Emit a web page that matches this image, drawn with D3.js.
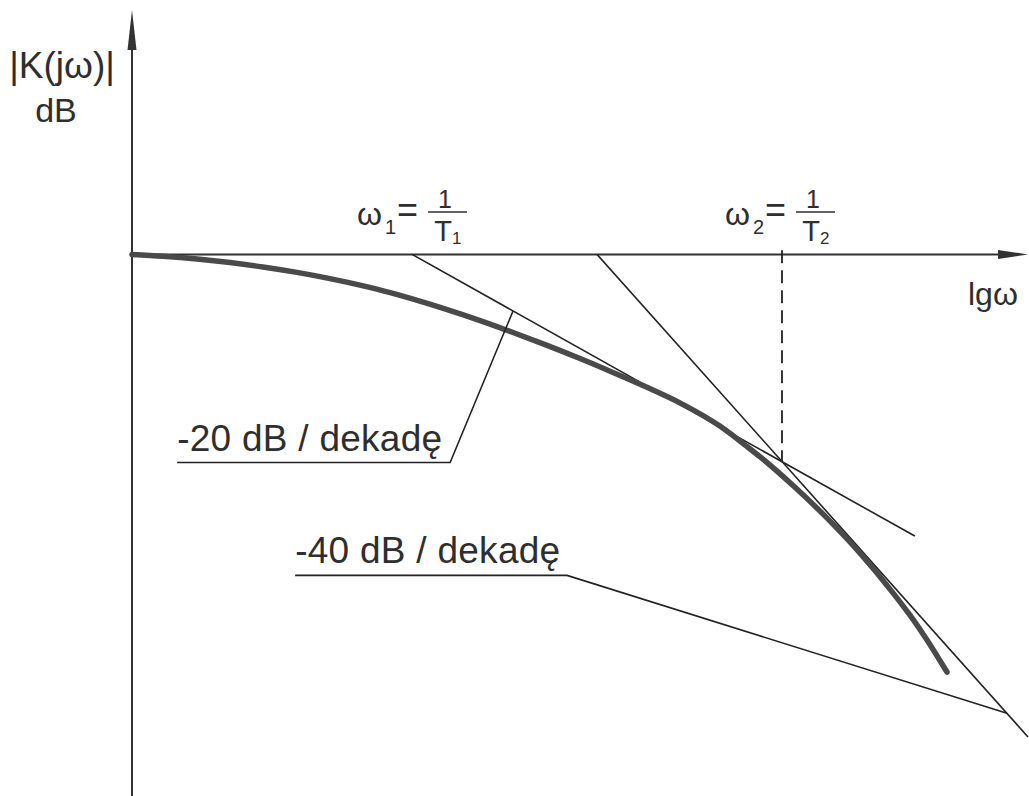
<!DOCTYPE html>
<html>
<head>
<meta charset="utf-8">
<script src="https://cdn.jsdelivr.net/npm/d3@7"></script>
<style>
  html, body { margin: 0; padding: 0; background: #fff; }
  svg { display: block; }
  text { font-family: "Liberation Sans", Arial, Helvetica, sans-serif; fill: #2e2e2e; }
</style>
</head>
<body>
<svg id="chart" width="1029" height="796"></svg>
<script>
// Bode magnitude plot of a two-pole system: real curve and its asymptotes.
// Horizontal unit: decades of lg(ω), with ω1 = 1/T1 at 0 and ω2 = 1/T2 at 1.
// Vertical unit: dB.

// Real magnitude curve (lg ω, dB)
const curveLg = [-0.757, -0.673, -0.581, -0.492, -0.403, -0.311, -0.222, -0.132, -0.059,
                 0.003, 0.095, 0.184, 0.273, 0.365, 0.454, 0.543, 0.635, 0.724, 0.832,
                 0.905, 0.941, 1.030, 1.122, 1.211, 1.300, 1.346, 1.392, 1.446];
const curveDb = [0, -0.18, -0.45, -0.79, -1.21, -1.74, -2.34, -3.04, -3.69,
                 -4.32, -5.33, -6.39, -7.54, -8.79, -10.06, -11.40, -12.84, -14.34, -16.58,
                 -18.54, -19.55, -22.32, -25.47, -28.85, -32.68, -34.84, -37.23, -40.33];

// -20 dB/decade asymptote starting at ω1
const slope20Lg = [0, 1.359];
const slope20Db = [0, -27.2];

// -40 dB/decade asymptote, crossing the first one at ω2
const slope40Lg = [0.5, 1.665];
const slope40Db = [0, -46.6];

// Corner frequency ω2 marker (dashed)
const cornerLg = [1, 1];
const cornerDb = [0.4, -20];

// Label leaders: underline then a stroke to the asymptote
const leader20Lg = [-0.635, 0.103, 0.273];
const leader20Db = [-20.1, -20.1, -5.46];
const leader40Lg = [-0.316, 0.419, 1.608];
const leader40Db = [-31.0, -31.0, -44.3];

// Axis extents
const lgDomain = [-0.757, 1.665];
const dbDomain = [23.6, -52.3];

const svg = d3.select("#chart");
const x = d3.scaleLinear().domain(lgDomain).range([132, 1028]);
const y = d3.scaleLinear().domain(dbDomain).range([10, 796]);

const zip = (a, b) => a.map((v, i) => [v, b[i]]);
const line = d3.line().x(d => x(d[0])).y(d => y(d[1]));
const smooth = d3.line().x(d => x(d[0])).y(d => y(d[1])).curve(d3.curveMonotoneX);

// Axes
const x0 = x(lgDomain[0]), y0 = y(0);
svg.append("line").attr("x1", x0).attr("x2", x0).attr("y1", 796).attr("y2", 40)
  .attr("stroke", "#333").attr("stroke-width", 2);
svg.append("path")
  .attr("d", `M${x0},${y(dbDomain[0])} L${x0 - 4.5},${y(dbDomain[0]) + 40} L${x0 + 4.5},${y(dbDomain[0]) + 40} Z`)
  .attr("fill", "#333");
svg.append("line").attr("x1", x0).attr("x2", 1000).attr("y1", y0).attr("y2", y0)
  .attr("stroke", "#333").attr("stroke-width", 2);
svg.append("path")
  .attr("d", `M${x(lgDomain[1])},${y0} L${x(lgDomain[1]) - 30},${y0 - 4.5} L${x(lgDomain[1]) - 30},${y0 + 4.5} Z`)
  .attr("fill", "#333");

// Asymptotes
[[slope20Lg, slope20Db], [slope40Lg, slope40Db]].forEach(([a, b]) => {
  svg.append("path").datum(zip(a, b)).attr("d", line)
    .attr("fill", "none").attr("stroke", "#222").attr("stroke-width", 1.6);
});

// Dashed marker at ω2
svg.append("path").datum(zip(cornerLg, cornerDb)).attr("d", line)
  .attr("fill", "none").attr("stroke", "#222").attr("stroke-width", 1.8)
  .attr("stroke-dasharray", "13,7");

// Real curve
svg.append("path").datum(zip(curveLg, curveDb)).attr("d", smooth)
  .attr("fill", "none").attr("stroke", "#4a4a4a").attr("stroke-width", 5.5)
  .attr("stroke-linecap", "round").attr("stroke-linejoin", "round");

// Leaders
[[leader20Lg, leader20Db], [leader40Lg, leader40Db]].forEach(([a, b]) => {
  svg.append("path").datum(zip(a, b)).attr("d", line)
    .attr("fill", "none").attr("stroke", "#222").attr("stroke-width", 1.6);
});

// Axis titles
svg.append("text").attr("x", 62).attr("y", 78).attr("text-anchor", "middle")
  .attr("font-size", 37).text("|K(jω)|");
svg.append("text").attr("x", 56).attr("y", 122).attr("text-anchor", "middle")
  .attr("font-size", 34).text("dB");
svg.append("text").attr("x", 968).attr("y", 305).attr("font-size", 32).text("lgω");

// Slope labels
svg.append("text").attr("x", x(leader20Lg[0])).attr("y", y(leader20Db[0]) - 12)
  .attr("font-size", 37).attr("textLength", 265).text("-20 dB / dekadę");
svg.append("text").attr("x", x(leader40Lg[0])).attr("y", y(leader40Db[0]) - 12)
  .attr("font-size", 37).attr("textLength", 265).text("-40 dB / dekadę");

// Corner-frequency labels ω = 1/T
function cornerLabel(cx, sub) {
  const g = svg.append("g");
  const xw = cx - 55;
  g.append("text").attr("x", xw).attr("y", 225).attr("font-size", 32).text("ω");
  g.append("text").attr("x", xw + 28).attr("y", 234).attr("font-size", 20).text(sub);
  g.append("text").attr("x", xw + 40).attr("y", 222).attr("font-size", 36).text("=");
  g.append("line").attr("x1", xw + 71).attr("x2", xw + 110).attr("y1", 212).attr("y2", 212)
    .attr("stroke", "#2e2e2e").attr("stroke-width", 1.6);
  g.append("text").attr("x", xw + 88).attr("y", 208).attr("text-anchor", "middle")
    .attr("font-size", 25).text("1");
  g.append("text").attr("x", xw + 86).attr("y", 241).attr("text-anchor", "middle")
    .attr("font-size", 29).text("T");
  g.append("text").attr("x", xw + 95).attr("y", 244).attr("font-size", 17).text(sub);
}
cornerLabel(x(0) + 0, "1");
cornerLabel(x(1) - 2, "2");
</script>
</body>
</html>
